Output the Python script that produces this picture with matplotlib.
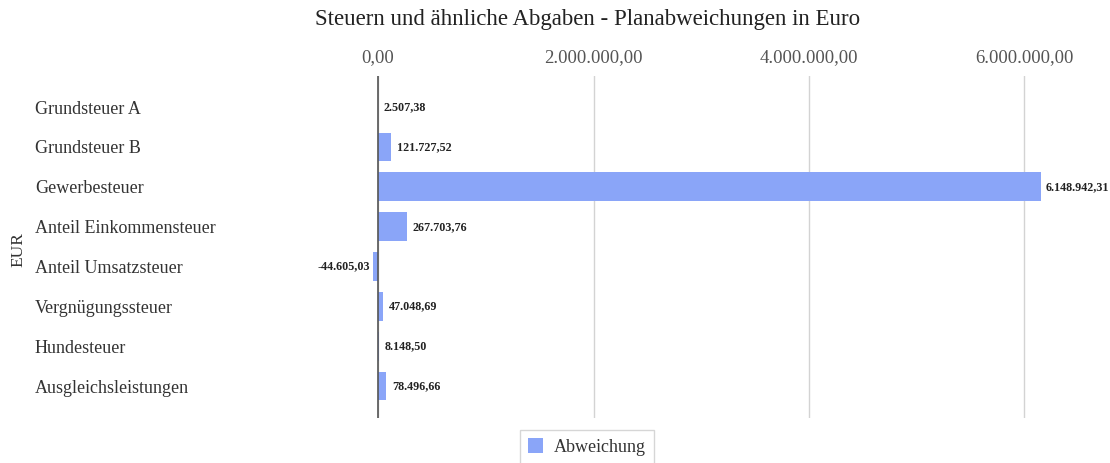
import matplotlib.pyplot as plt
from matplotlib.ticker import FuncFormatter

categories = ["Grundsteuer A", "Grundsteuer B", "Gewerbesteuer", "Anteil Einkommensteuer",
              "Anteil Umsatzsteuer", "Vergnügungssteuer", "Hundesteuer", "Ausgleichsleistungen"]
abweichung = [2507.38, 121727.52, 6148942.31, 267703.76, -44605.03, 47048.69, 8148.50, 78496.66]
x_ticks = [0, 2000000, 4000000, 6000000]


def de_format(v, pos=None):
    s = "{:,.2f}".format(v)
    return s.replace(",", "X").replace(".", ",").replace("X", ".")


plt.rcParams['font.family'] = ['Liberation Serif', 'DejaVu Serif']

fig = plt.figure(figsize=(11.1, 4.63), dpi=100)
ax = fig.add_axes([300 / 1110, 1 - 418 / 463, 790 / 1110, 342 / 463])

bar_color = "#8aa5f8"
ypos = list(range(len(categories)))
ax.barh(ypos, abweichung, height=0.72, color=bar_color, zorder=2, label="Abweichung")

ax.set_xlim(-0.724e6, 6.608e6)
ax.set_ylim(len(categories) - 0.2, -0.78)
ax.set_xticks(x_ticks)
ax.xaxis.set_major_formatter(FuncFormatter(de_format))
ax.xaxis.tick_top()
ax.tick_params(axis='x', length=0, labelsize=13.5, labelcolor="#555555", pad=7)
ax.set_yticks(ypos)
ax.set_yticklabels(categories, ha="left")
# pad in points: axes left at 300 px, labels start at 35 px
ax.tick_params(axis='y', length=0, labelsize=13, labelcolor="#333333", pad=(300 - 35) * 72 / 100)
ax.grid(axis='x', color="#d3d3d3", linewidth=1, zorder=0)
ax.axvline(0, color="#555555", linewidth=1.2, zorder=3)
for s in ax.spines.values():
    s.set_visible(False)

for y, v in zip(ypos, abweichung):
    if v >= 0:
        ax.text(v + 50000, y, de_format(v), va="center", ha="left", fontsize=8.7,
                fontweight="bold", color="#222222", zorder=4)
    else:
        ax.text(v - 30000, y, de_format(v), va="center", ha="right", fontsize=8.7,
                fontweight="bold", color="#222222", zorder=4)

fig.text(18 / 1110, 1 - 250 / 463, "EUR", rotation=90, va="center", ha="center",
         fontsize=12.5, color="#333333")
fig.text(588 / 1110, 1 - 20 / 463, "Steuern und ähnliche Abgaben - Planabweichungen in Euro",
         ha="center", va="center", fontsize=16.5, color="#222222")

leg = fig.legend(loc="upper center", bbox_to_anchor=(587 / 1110, 1 - 430 / 463), fontsize=13,
                 frameon=True, fancybox=False, edgecolor="#cccccc", handlelength=0.85,
                 handleheight=0.85, handletextpad=0.6, borderpad=0.45, borderaxespad=0,
                 labelcolor="#333333")
leg.get_frame().set_linewidth(1)

fig.savefig("out.png", dpi=100)
